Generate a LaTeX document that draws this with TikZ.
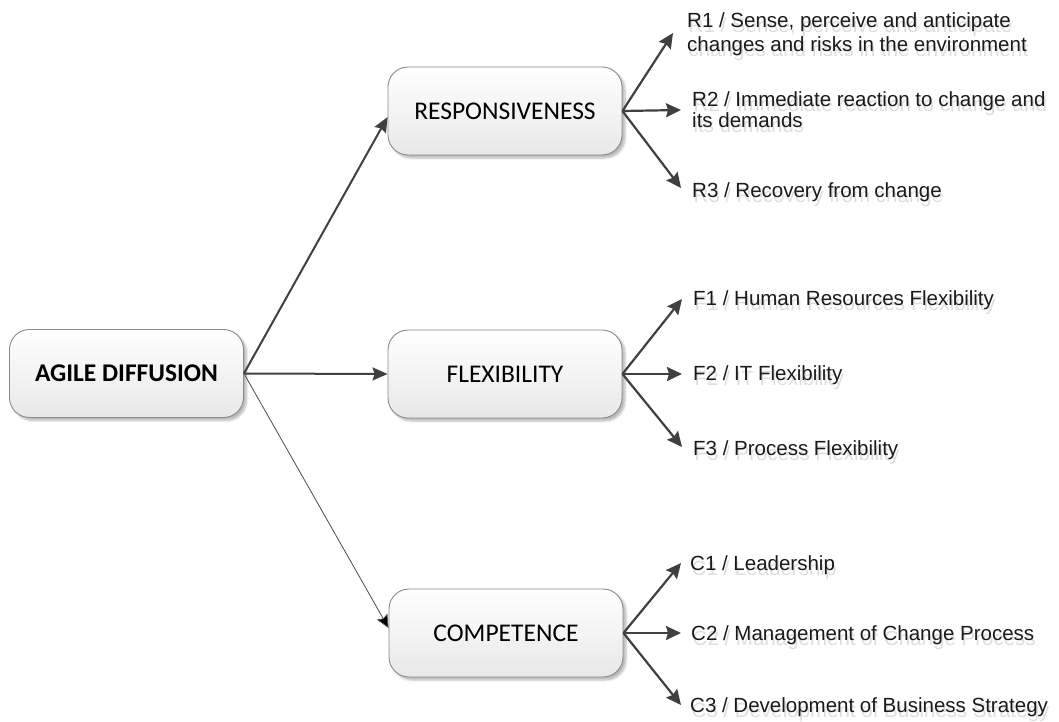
\documentclass[tikz,border=0pt]{standalone}
\usepackage{fontspec}
\setmainfont{Liberation Sans}
\newfontfamily\boxfont{Carlito}
\usetikzlibrary{arrows.meta,shadows.blur}

\definecolor{arrowgray}{HTML}{404040}
\definecolor{boxedge}{HTML}{8A8A8A}
\definecolor{ghostgray}{HTML}{DEDEDE}
\definecolor{leafink}{HTML}{1A1A1A}

\tikzset{
  topic/.style={draw=boxedge, line width=0.9pt, rounded corners=20pt,
    minimum width=234pt, minimum height=88pt, inner sep=0pt,
    top color=white, bottom color=black!9,
    blur shadow={shadow xshift=3pt, shadow yshift=-3pt,
      shadow blur steps=6, shadow opacity=28},
    font=\boxfont\fontsize{25.5}{30}\selectfont, text=black},
  leaf/.style={inner sep=0pt, anchor=base west, text=leafink,
    font=\fontsize{20.5}{24}\selectfont},
  leafml/.style={leaf, anchor=north west, align=left},
  mainarrow/.style={draw=arrowgray, line width=2pt,
    -{Stealth[length=15pt, width=13pt, inset=2pt, fill=arrowgray]}},
  thinarrow/.style={draw=black!70, line width=0.8pt,
    -{Stealth[length=13pt, width=12pt, inset=2pt, fill=black]}},
  leafarrow/.style={draw=arrowgray, line width=2.2pt,
    -{Stealth[length=15pt, width=14pt, inset=2pt, fill=arrowgray]}},
}

% label with a soft grey echo set slightly below it
\newcommand\echolabel[4][]{%
  \node[leaf, #1, text=ghostgray, xshift=1.5pt, yshift=-5pt] (#2-echo) at #3 {#4};
  \node[leaf, #1] (#2) at #3 {#4};}

\begin{document}
\begin{tikzpicture}[x=1pt, y=-1pt]
  \useasboundingbox (0,0) rectangle (1059,722);

  % topic boxes
  \node[topic, font=\boxfont\bfseries\fontsize{25.5}{30}\selectfont] (agile) at (126.5,373.5) {AGILE DIFFUSION};
  \node[topic] (resp) at (505,111) {RESPONSIVENESS};
  \node[topic] (flex) at (505,374) {FLEXIBILITY};
  \node[topic] (comp) at (506,633) {COMPETENCE};

  % root connectors
  \draw[mainarrow] (agile.east) -- ([yshift=-6pt]resp.west);
  \draw[mainarrow] (agile.east) -- (flex.west);
  \draw[thinarrow] (agile.east) -- ([yshift=5pt]comp.west);

  % free ends of the leaf arrows
  \coordinate (r1tip) at (673,33);
  \coordinate (r2tip) at (681,110);
  \coordinate (r3tip) at (681,188);
  \coordinate (f1tip) at (682,299);
  \coordinate (f2tip) at (682,374);
  \coordinate (f3tip) at (682,447);
  \coordinate (c1tip) at (681,563);
  \coordinate (c2tip) at (681,633);
  \coordinate (c3tip) at (681,705);

  \foreach \t in {r1tip,r2tip,r3tip} \draw[leafarrow] (resp.east) -- (\t);
  \foreach \t in {f1tip,f2tip,f3tip} \draw[leafarrow] (flex.east) -- (\t);
  \foreach \t in {c1tip,c2tip,c3tip} \draw[leafarrow] (comp.east) -- (\t);

  % leaf labels
  \echolabel[leafml, font=\fontsize{20.5}{24.5}\selectfont]{r1}{(687,12)}{R1 / Sense, perceive and anticipate\\changes and risks in the environment}
  \echolabel[leafml, font=\fontsize{20.5}{21.5}\selectfont]{r2}{(692,91)}{R2 / Immediate reaction to change and\\its demands}
  \echolabel{r3}{(692,197)}{R3 / Recovery from change}

  \echolabel{f1}{(693,305)}{F1 / Human Resources Flexibility}
  \echolabel{f2}{(693,380)}{F2 / IT Flexibility}
  \echolabel{f3}{(693,455)}{F3 / Process Flexibility}

  \echolabel{c1}{(690,570)}{C1 / Leadership}
  \echolabel{c2}{(691,640)}{C2 / Management of Change Process}
  \echolabel{c3}{(690,712)}{C3 / Development of Business Strategy}
\end{tikzpicture}
\end{document}
